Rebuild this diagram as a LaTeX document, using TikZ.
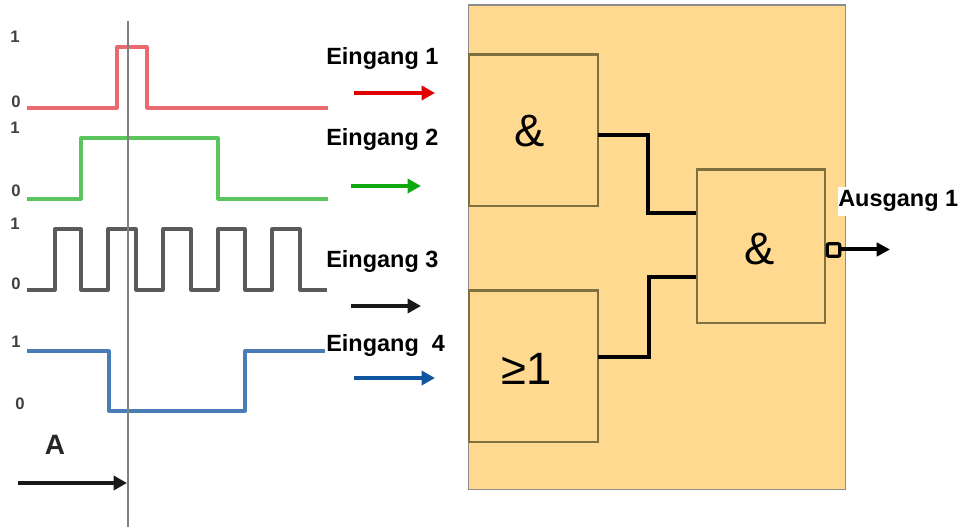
\documentclass[tikz,border=0pt]{standalone}
\usepackage{fontspec}
\setmainfont{Liberation Sans}
\usetikzlibrary{arrows.meta}
\definecolor{panel}{HTML}{FFD98F}
\definecolor{boxline}{HTML}{7F7040}
\definecolor{sigred}{HTML}{EA6A70}
\definecolor{siggreen}{HTML}{5CC45C}
\definecolor{sigblack}{HTML}{5A5A5A}
\definecolor{sigblue}{HTML}{4A7DB5}
\definecolor{arrred}{HTML}{E00000}
\definecolor{arrgreen}{HTML}{10A810}
\definecolor{arrblue}{HTML}{0F55A0}
\tikzset{
  x=0.75pt,y=-0.75pt,
  signal/.style={line width=2.4pt,line join=round},
  flow/.style={line width=3.4pt,-{Triangle[length=10pt,width=10.5pt]}},
  lbl/.style={font=\fontsize{17.6pt}{20pt}\selectfont\bfseries,anchor=base west,inner sep=0pt},
  lvl/.style={font=\fontsize{12.5pt}{14pt}\selectfont\bfseries,text=black!75,inner sep=0pt},
  gate/.style={draw=boxline,line width=1.6pt,fill=panel,inner sep=0pt},
  wire/.style={line width=2.5pt,black,line join=miter},
}
\begin{document}
\begin{tikzpicture}
\useasboundingbox (0,0) rectangle (970,530);
% panel
\node[draw=black!45,line width=1pt,fill=panel,inner sep=0pt,minimum width=282.75pt,minimum height=363pt,anchor=north west] (panel) at (467.5,4.5) {};
% gates
\node[gate,minimum width=97pt,minimum height=113.5pt,anchor=north west] (g1) at (467.5,53.5) {};
\node[gate,minimum width=97pt,minimum height=113.5pt,anchor=north west] (g2) at (467.5,289.5) {};
\node[gate,minimum width=96.25pt,minimum height=115pt,anchor=north west] (g3) at (695.5,168.5) {};
\node[font=\fontsize{34pt}{38pt}\selectfont,inner sep=0pt] (t1) at (530,131) {\&};
\node[font=\fontsize{34pt}{38pt}\selectfont,inner sep=0pt] (t2) at (527,369) {≥1};
\node[font=\fontsize{34pt}{38pt}\selectfont,inner sep=0pt] (t3) at (759.5,249) {\&};
% wires
\coordinate (o1) at (598,135);
\coordinate (o2) at (598,357);
\coordinate (i1) at (696,213);
\coordinate (i2) at (696,277);
\draw[wire] (o1) -- (648,135) -- (648,213) -- (i1);
\draw[wire] (o2) -- (649,357) -- (649,277) -- (i2);
% output
\coordinate (out) at (890,249.5);
\coordinate (outs) at (838,249.5);
\draw[line width=3pt,-{Triangle[length=10pt,width=10pt]}] (outs) -- (out);
\node[draw=black,line width=2.4pt,fill=panel,rounded corners=1.5pt,minimum size=9.5pt,inner sep=0pt] (bub) at (833.5,250) {};
\node[lbl,fill=white,anchor=base west,inner ysep=3pt] (aus) at (838,207) {Ausgang 1};
% waveforms
\draw[signal,sigred] (27,108) -- (117,108) -- (117,47) -- (147,47) -- (147,108) -- (328,108);
\draw[signal,siggreen] (27,199) -- (81,199) -- (81,138) -- (218,138) -- (218,199) -- (328,199);
\draw[signal,sigblack] (27,290) -- (55,290) -- (55,229) -- (81,229) -- (81,290) -- (108,290) -- (108,229) -- (136,229) -- (136,290) -- (163,290) -- (163,229) -- (191,229) -- (191,290) -- (218,290) -- (218,229) -- (245,229) -- (245,290) -- (272,290) -- (272,229) -- (300,229) -- (300,290) -- (327,290);
\draw[signal,sigblue] (27,351) -- (109,351) -- (109,411) -- (245,411) -- (245,351) -- (325,351);
% cursor
\coordinate (ctop) at (127.5,21);
\coordinate (cbot) at (127.5,527);
\draw[line width=1.5pt,black!50] (ctop) -- (cbot);
% level labels
\node[lvl] (l1) at (15,37) {1};
\node[lvl] (l2) at (16,102) {0};
\node[lvl] (l3) at (15,128) {1};
\node[lvl] (l4) at (16,191) {0};
\node[lvl] (l5) at (15,224) {1};
\node[lvl] (l6) at (16,284) {0};
\node[lvl] (l7) at (16,342) {1};
\node[lvl] (l8) at (20,404) {0};
\node[font=\fontsize{21pt}{24pt}\selectfont\bfseries,text=black!85,inner sep=0pt] (A) at (55,445) {A};
% input labels
\node[lbl] (e1) at (326,65) {Eingang 1};
\node[lbl] (e2) at (326,146) {Eingang 2};
\node[lbl] (e3) at (326,268) {Eingang 3};
\node[lbl] (e4) at (326,352) {Eingang\ \ 4};
% arrows
\coordinate (a1s) at (354,93); \coordinate (a1e) at (435,93);
\coordinate (a2s) at (351,186); \coordinate (a2e) at (421,186);
\coordinate (a3s) at (351,306); \coordinate (a3e) at (421,306);
\coordinate (a4s) at (354,378); \coordinate (a4e) at (435,378);
\coordinate (a5s) at (18,483); \coordinate (a5e) at (127,483);
\draw[flow,arrred] (a1s) -- (a1e);
\draw[flow,arrgreen] (a2s) -- (a2e);
\draw[flow,black!90] (a3s) -- (a3e);
\draw[flow,arrblue] (a4s) -- (a4e);
\draw[flow,black!90] (a5s) -- (a5e);
\end{tikzpicture}
\end{document}
